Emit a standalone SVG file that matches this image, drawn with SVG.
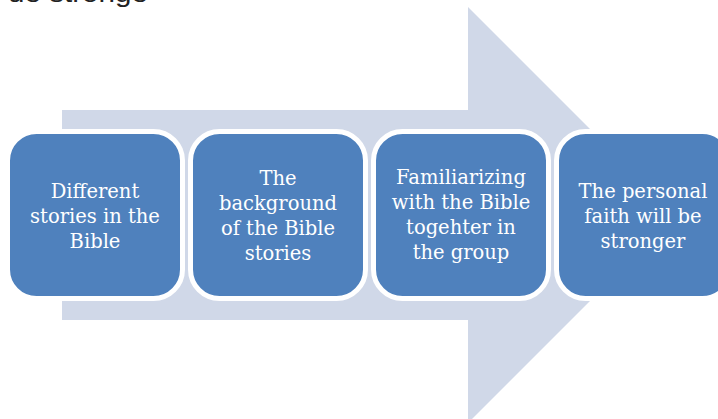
<svg xmlns="http://www.w3.org/2000/svg" width="718" height="419" viewBox="0 0 718 419">
  <style>
    .box { fill: #4F81BD; stroke: #FFFFFF; stroke-width: 5; }
    .lbl { font-family: "DejaVu Serif", "Liberation Serif", serif; font-size: 19.5px; fill: #FFFFFF; text-anchor: middle; }
  </style>
  <rect width="718" height="419" fill="#FFFFFF"/>
  <text x="8" y="2" font-family="Liberation Sans, Arial, sans-serif" font-size="26" fill="#222222" textLength="140" lengthAdjust="spacingAndGlyphs">ue stronge</text>
  <g id="arrow">
    <polygon points="62,110 468,110 468,7 676,215 468,423 468,320 62,320" fill="#D0D8E8"/>
  </g>
  <g id="node1">
    <rect class="box" x="7.5" y="131.5" width="175" height="167" rx="29"/>
    <text class="lbl" x="95"><tspan x="95" y="198">Different</tspan><tspan x="95" y="223">stories in the</tspan><tspan x="95" y="248">Bible</tspan></text>
  </g>
  <g id="node2">
    <rect class="box" x="190.5" y="131.5" width="175" height="167" rx="29"/>
    <text class="lbl"><tspan x="278" y="185">The</tspan><tspan x="278" y="210">background</tspan><tspan x="278" y="235">of the Bible</tspan><tspan x="278" y="260">stories</tspan></text>
  </g>
  <g id="node3">
    <rect class="box" x="373.5" y="131.5" width="175" height="167" rx="29"/>
    <text class="lbl"><tspan x="461" y="184">Familiarizing</tspan><tspan x="461" y="209">with the Bible</tspan><tspan x="461" y="234">togehter in</tspan><tspan x="461" y="259">the group</tspan></text>
  </g>
  <g id="node4">
    <rect class="box" x="556.5" y="131.5" width="175" height="167" rx="29"/>
    <text class="lbl"><tspan x="643" y="198">The personal</tspan><tspan x="643" y="223">faith will be</tspan><tspan x="643" y="248">stronger</tspan></text>
  </g>
  <g id="connectors"></g>
</svg>
